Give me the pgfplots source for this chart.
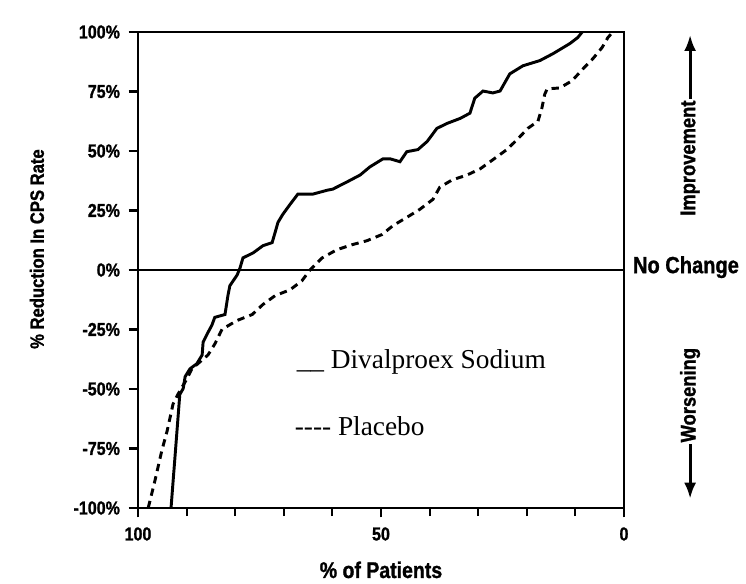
\documentclass[border=0pt]{standalone}
\usepackage{fontspec}
\setmainfont{Liberation Serif}
\newfontfamily\cond{Liberation Sans}[FakeStretch=0.86, BoldFeatures={FakeBold=1.2}]
\usepackage{pgfplots}
\pgfplotsset{compat=1.18}
\usetikzlibrary{arrows.meta}

\pgfplotstableread{
x y
93.2 -100
91.4 -52.3
90.7 -49.8
90.3 -44.8
89.3 -41.5
87.9 -39.4
86.8 -35.7
86.6 -30.3
85.8 -27.0
84.8 -23.2
84.2 -19.9
82.1 -18.7
81.5 -10.8
81.1 -6.6
79.6 -2.1
79.0 0.9
78.4 5.1
76.3 7.2
74.3 10.2
72.4 11.5
71.8 15.7
71.2 20.0
70.2 23.4
68.7 27.6
67.1 31.9
64.0 31.9
61.1 33.5
59.9 34.0
57.0 37.0
54.3 39.9
52.3 43.3
49.6 46.7
48.1 46.7
46.1 45.5
44.7 49.7
42.4 50.6
40.5 54.0
38.5 59.5
36.4 61.6
33.7 63.7
31.7 65.9
30.7 72.2
29.0 75.2
27.0 74.4
25.5 75.2
23.5 82.4
20.8 85.8
17.3 88.0
14.6 90.9
11.1 95.2
9.5 97.7
8.6 100
}\divalproex

\pgfplotstableread{
x y
97.9 -100
96.5 -88.4
95.1 -75.9
94.0 -67.6
92.8 -56.4
91.8 -52.3
89.9 -45.6
88.9 -41.5
87.7 -39.4
85.6 -35.7
84.2 -31.1
82.7 -24.9
79.6 -21.2
76.5 -18.7
74.3 -14.5
71.8 -10.8
68.7 -8.3
66.3 -4.6
64.6 0.0
62.1 5.1
59.1 8.5
56.0 10.6
52.9 12.3
49.8 14.9
47.5 18.7
44.7 22.1
42.0 25.5
39.3 29.7
37.9 34.8
35.4 37.8
32.3 39.9
29.6 42.5
27.0 46.3
24.1 50.6
21.8 55.2
19.8 59.5
17.7 62.5
16.9 68.0
16.3 73.9
15.8 76.1
13.2 76.5
10.7 79.5
8.4 84.6
6.4 88.8
4.5 93.5
3.3 97.7
2.3 100
}\placebo

\begin{document}
\begin{tikzpicture}
\useasboundingbox (0,0) rectangle (559.5pt,437.25pt);
\begin{axis}[
  at={(103.5pt,56.25pt)}, anchor=south west,
  scale only axis, width=364.5pt, height=357pt,
  xmin=0, xmax=100, ymin=-100, ymax=100,
  x dir=reverse,
  clip=false,
  axis line style={line width=2.2pt},
  every tick/.style={black, line width=1.6pt},
  tick align=outside,
  major tick length=7pt, minor tick length=6pt,
  xtick={0,50,100}, xticklabels={0,50,100},
  minor xtick={10,20,30,40,60,70,80,90},
  ytick={-100,-75,-50,-25,0,25,50,75,100},
  yticklabels={-100\%,-75\%,-50\%,-25\%,0\%,25\%,50\%,75\%,100\%},
  ytick pos=left, xtick pos=bottom,
  /pgf/number format/assume math mode=true,
  tick label style={font=\cond\bfseries\fontsize{14}{15}\selectfont},
  yticklabel style={xshift=-3pt},
  xticklabel style={yshift=-4pt},
  xlabel={\% of Patients},
  xlabel style={font=\cond\bfseries\fontsize{17}{18}\selectfont, at={(axis description cs:0.5,-0.13)}, anchor=center},
  ylabel={\% Reduction In CPS Rate},
  ylabel style={font=\cond\bfseries\fontsize{14.5}{15}\selectfont, at={(axis description cs:-0.208,0.544)}, anchor=center, rotate=0},
]
\addplot[black, line width=1.5pt, forget plot] coordinates {(100,0) (0,0)};
\addplot[black, line width=2.2pt] table[x=x,y=y] {\divalproex};
\addplot[black, line width=2.2pt, dash pattern=on 5.5pt off 4pt] table[x=x,y=y] {\placebo};

\node[anchor=west, font=\fontsize{20.5}{22}\selectfont] at (axis cs:68.3,-38.6) {\_\_ Divalproex Sodium};
\node[anchor=west, font=\fontsize{20.5}{22}\selectfont] at (axis cs:68.7,-65.6) {-{}-{}-{}- Placebo};

\node[anchor=west, font=\cond\bfseries\fontsize{17.5}{18}\selectfont, inner sep=0pt] at (axis description cs:1.018,0.506) {No Change};
\coordinate (impC) at (axis description cs:1.136,0.735);
\coordinate (worC) at (axis description cs:1.136,0.237);
\end{axis}
\node[rotate=90, anchor=center, font=\cond\bfseries\fontsize{16}{17}\selectfont, inner sep=1pt] (imp) at (impC) {Improvement};
\draw[line width=2.2pt, -{Latex[length=12pt,width=9pt]}] (imp.east) -- ++(0,48pt);
\node[rotate=90, anchor=center, font=\cond\bfseries\fontsize{16}{17}\selectfont, inner sep=1pt] (wor) at (worC) {Worsening};
\draw[line width=2.2pt, -{Latex[length=12pt,width=9pt]}] (wor.west) -- ++(0,-41pt);
\end{tikzpicture}
\end{document}
